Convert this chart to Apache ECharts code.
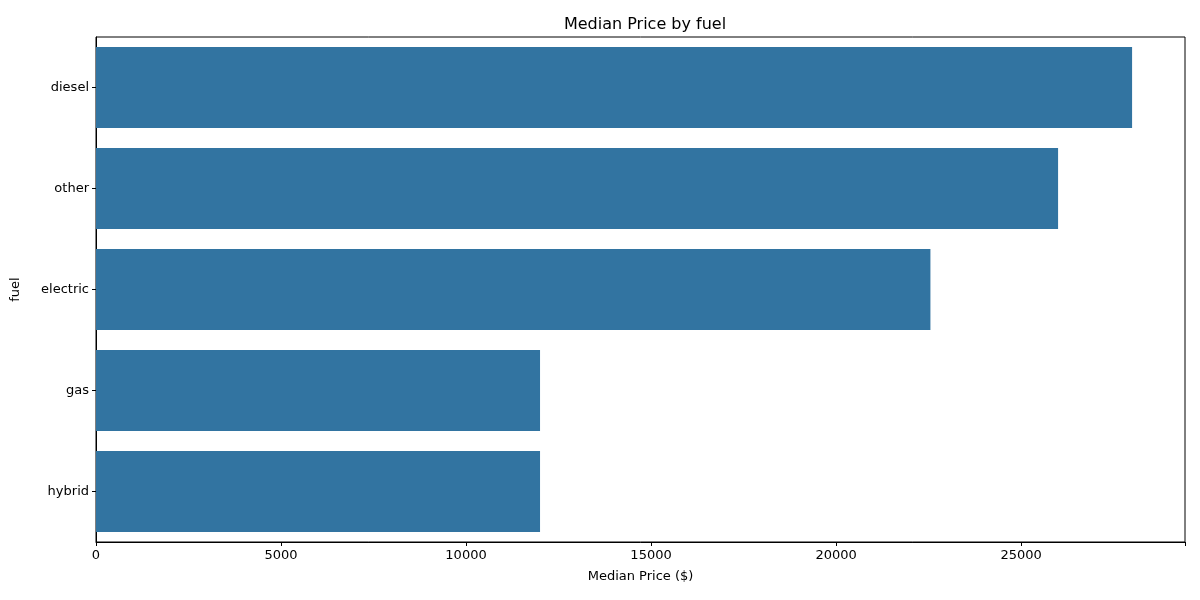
<!DOCTYPE html>
<html>
<head>
<meta charset="utf-8">
<script src="https://cdn.jsdelivr.net/npm/echarts@6/dist/echarts.min.js"></script>
</head>
<body style="margin:0">
<div id="chart" style="width:1200px;height:600px;"></div>
<script>
var fuels = ['diesel', 'other', 'electric', 'gas', 'hybrid'];
var medianPrice = [28000, 26000, 22550, 12000, 12000];
var xTicks = [0, 5000, 10000, 15000, 20000, 25000];

var chart = echarts.init(document.getElementById('chart'));
var font = 'DejaVu Sans';
chart.setOption({
    animation: false,
    title: {
        text: 'Median Price by fuel', left: 640, top: 12, textAlign: 'center',
        textStyle: { fontFamily: font, fontSize: 16, fontWeight: 'normal', color: '#000' }
    },
    grid: { left: 96, right: 15, top: 37, bottom: 58, show: true, borderColor: '#000', borderWidth: 1 },
    xAxis: {
        type: 'value', min: 0, max: 29430, interval: 5000,
        name: 'Median Price ($)', nameLocation: 'middle', nameGap: 28,
        nameTextStyle: { fontFamily: font, fontSize: 13, color: '#000' },
        axisLine: { show: true, lineStyle: { color: '#000' } },
        axisTick: { show: true, length: 4, lineStyle: { color: '#000' } },
        splitLine: { show: false },
        axisLabel: {
            fontFamily: font, fontSize: 13, color: '#000', margin: 7,
            formatter: function (v) { return xTicks.indexOf(v) >= 0 ? String(v) : ''; }
        }
    },
    yAxis: {
        type: 'category', data: fuels, inverse: true,
        name: 'fuel', nameLocation: 'middle', nameGap: 74,
        nameTextStyle: { fontFamily: font, fontSize: 13, color: '#000' },
        axisLine: { show: true, lineStyle: { color: '#000' } },
        axisTick: { show: true, length: 4, alignWithLabel: true, lineStyle: { color: '#000' } },
        axisLabel: { fontFamily: font, fontSize: 13, color: '#000', margin: 7 }
    },
    series: [{
        type: 'bar', data: medianPrice, barWidth: '80%',
        itemStyle: { color: '#3274a1' }
    }]
});
</script>
</body>
</html>
